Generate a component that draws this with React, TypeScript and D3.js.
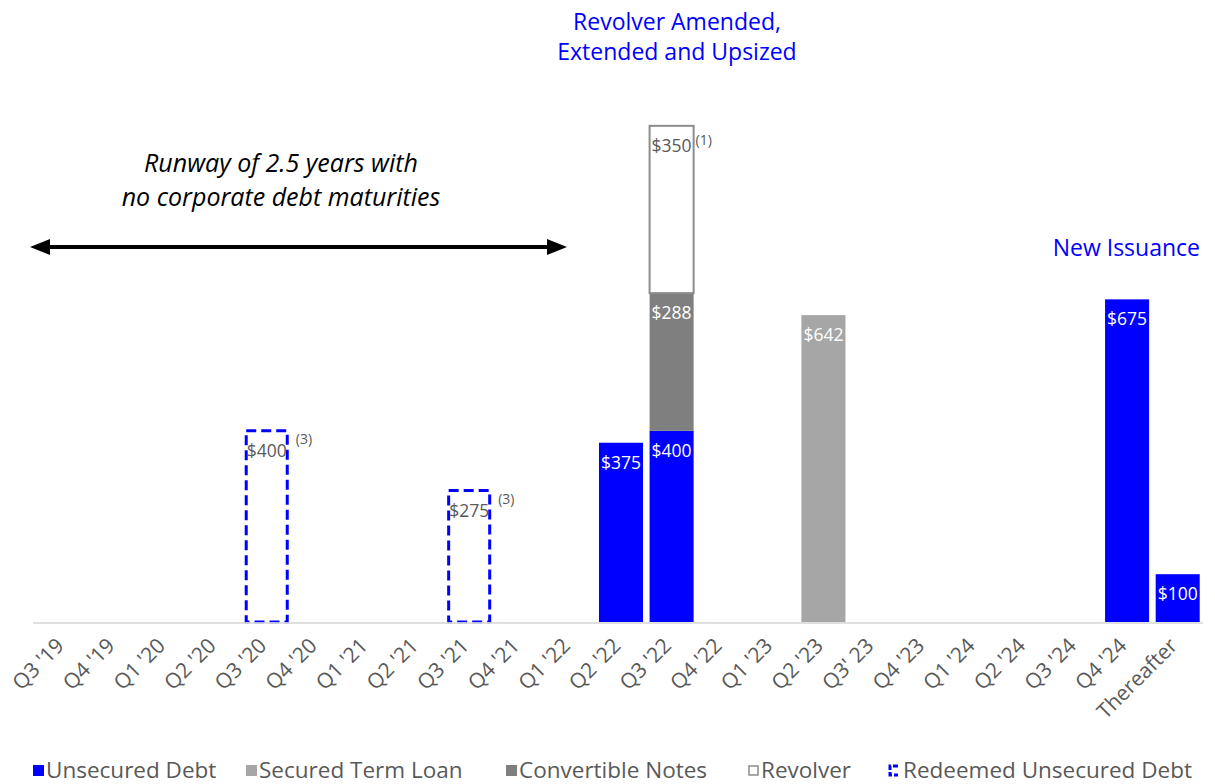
import React, { useEffect, useRef } from "react";
import * as d3 from "d3";

const categories = [
  "Q3 '19", "Q4 '19", "Q1 '20", "Q2 '20", "Q3 '20", "Q4 '20", "Q1 '21", "Q2 '21",
  "Q3 '21", "Q4 '21", "Q1 '22", "Q2 '22", "Q3 '22", "Q4 '22", "Q1 '23", "Q2 '23",
  "Q3' 23", "Q4 '23", "Q1 '24", "Q2 '24", "Q3 '24", "Q4 '24", "Thereafter",
];
const unsecured = [0, 0, 0, 0, 0, 0, 0, 0, 0, 0, 0, 375, 400, 0, 0, 0, 0, 0, 0, 0, 0, 675, 100];
const securedTermLoan = [0, 0, 0, 0, 0, 0, 0, 0, 0, 0, 0, 0, 0, 0, 0, 642, 0, 0, 0, 0, 0, 0, 0];
const convertible = [0, 0, 0, 0, 0, 0, 0, 0, 0, 0, 0, 0, 288, 0, 0, 0, 0, 0, 0, 0, 0, 0, 0];
const revolver = [0, 0, 0, 0, 0, 0, 0, 0, 0, 0, 0, 0, 350, 0, 0, 0, 0, 0, 0, 0, 0, 0, 0];
const redeemed = [0, 0, 0, 0, 400, 0, 0, 0, 275, 0, 0, 0, 0, 0, 0, 0, 0, 0, 0, 0, 0, 0, 0];
const footnotes = [
  { category: "Q3 '20", note: "(3)" },
  { category: "Q3 '21", note: "(3)" },
  { category: "Q3 '22", note: "(1)" },
];

const seriesKeys = ["unsecured", "secured", "convertible", "revolver"];
const seriesNames = ["Unsecured Debt", "Secured Term Loan", "Convertible Notes", "Revolver"];
const seriesFill = ["#0000ff", "#a6a6a6", "#7f7f7f", "#ffffff"];

const FONT = "'Open Sans', Lato, sans-serif";
const GREY = "#595959";

const App = () => {
  const svgRef = useRef<SVGSVGElement>(null);

  useEffect(() => {
    const width = 1215;
    const height = 784;
    const baseY = 622;

    d3.select(svgRef.current).selectAll("*").remove();

    const svg = d3
      .select(svgRef.current)
      .attr("width", width)
      .attr("height", height)
      .style("position", "absolute")
      .style("left", "0px")
      .style("top", "0px")
      .style("font-family", FONT);

    const x = d3
      .scaleBand()
      .domain(categories)
      .range([39, 1203])
      .paddingInner(0.13)
      .paddingOuter(0.065);

    const y = d3.scaleLinear().domain([0, 1100]).range([baseY, baseY - 1100 * 0.478]);

    const rows = categories.map((c, i) => ({
      category: c,
      unsecured: unsecured[i],
      secured: securedTermLoan[i],
      convertible: convertible[i],
      revolver: revolver[i],
    }));

    const stacked = d3.stack<any>().keys(seriesKeys)(rows);

    // stacked bars
    stacked.forEach((layer, li) => {
      const g = svg.append("g");
      const valid = layer.filter((d) => d[1] - d[0] > 0);
      g.selectAll("rect")
        .data(valid)
        .join("rect")
        .attr("x", (d) => x(d.data.category)!)
        .attr("y", (d) => y(d[1]))
        .attr("width", x.bandwidth())
        .attr("height", (d) => y(d[0]) - y(d[1]))
        .attr("fill", seriesFill[li])
        .attr("stroke", li === 3 ? "#8c8c8c" : "none")
        .attr("stroke-width", li === 3 ? 2 : 0);

      g.selectAll("text")
        .data(valid)
        .join("text")
        .attr("x", (d) => x(d.data.category)! + x.bandwidth() / 2)
        .attr("y", (d) => y(d[1]) + 26)
        .attr("text-anchor", "middle")
        .attr("font-size", 17.5)
        .attr("fill", li === 3 ? GREY : "#ffffff")
        .text((d) => `$${d[1] - d[0]}`);
    });

    // redeemed (dashed) bars
    const redeemedData = categories
      .map((c, i) => ({ category: c, value: redeemed[i] }))
      .filter((d) => d.value > 0);

    svg
      .append("g")
      .selectAll("rect")
      .data(redeemedData)
      .join("rect")
      .attr("x", (d) => x(d.category)! + 1.5)
      .attr("y", (d) => y(d.value))
      .attr("width", x.bandwidth() - 3)
      .attr("height", (d) => baseY - y(d.value))
      .attr("fill", "none")
      .attr("stroke", "#0000ff")
      .attr("stroke-width", 3)
      .attr("stroke-dasharray", "10,5");

    svg
      .append("g")
      .selectAll("text")
      .data(redeemedData)
      .join("text")
      .attr("x", (d) => x(d.category)! + x.bandwidth() / 2)
      .attr("y", (d) => y(d.value) + 26)
      .attr("text-anchor", "middle")
      .attr("font-size", 17.5)
      .attr("fill", GREY)
      .text((d) => `$${d.value}`);

    // footnote markers
    const topOf = (c: string) => {
      const i = categories.indexOf(c);
      return unsecured[i] + securedTermLoan[i] + convertible[i] + revolver[i] || redeemed[i];
    };
    svg
      .append("g")
      .selectAll("text")
      .data(footnotes)
      .join("text")
      .attr("x", (d) => x(d.category)! + x.bandwidth() + (d.note === "(1)" ? 2 : 7))
      .attr("y", (d) => y(topOf(d.category)) + (d.note === "(1)" ? 19 : 13))
      .attr("font-size", 14)
      .attr("fill", GREY)
      .text((d) => d.note);

    // baseline
    svg
      .append("line")
      .attr("x1", 33)
      .attr("x2", 1203)
      .attr("y1", baseY + 1)
      .attr("y2", baseY + 1)
      .attr("stroke", "#d9d9d9")
      .attr("stroke-opacity", 0.85)
      .attr("stroke-width", 2);

    // category labels
    svg
      .append("g")
      .selectAll("text")
      .data(categories)
      .join("text")
      .attr("transform", (d) => `translate(${x(d)! + x.bandwidth() / 2 + 1},${baseY + 25}) rotate(-45)`)
      .attr("text-anchor", "end")
      .attr("font-size", 21)
      .attr("fill", GREY)
      .text((d) => d);

    // annotations
    svg
      .append("text")
      .attr("x", 677)
      .attr("y", 30)
      .attr("text-anchor", "middle")
      .attr("font-size", 23)
      .attr("fill", "#0000ff")
      .selectAll("tspan")
      .data(["Revolver Amended,", "Extended and Upsized"])
      .join("tspan")
      .attr("x", 677)
      .attr("dy", (d, i) => (i === 0 ? 0 : 30))
      .text((d) => d);

    svg
      .append("text")
      .attr("x", 1200)
      .attr("y", 256)
      .attr("text-anchor", "end")
      .attr("font-size", 23)
      .attr("fill", "#0000ff")
      .text("New Issuance");

    svg
      .append("text")
      .attr("x", 281)
      .attr("y", 172)
      .attr("text-anchor", "middle")
      .attr("font-size", 25)
      .attr("font-style", "italic")
      .attr("fill", "#000000")
      .selectAll("tspan")
      .data(["Runway of 2.5 years with", "no corporate debt maturities"])
      .join("tspan")
      .attr("x", 281)
      .attr("dy", (d, i) => (i === 0 ? 0 : 34))
      .text((d) => d);

    // double arrow
    const arrowY = 247;
    svg
      .append("line")
      .attr("x1", 44)
      .attr("x2", 553)
      .attr("y1", arrowY)
      .attr("y2", arrowY)
      .attr("stroke", "#000")
      .attr("stroke-width", 4);
    svg
      .append("path")
      .attr("d", `M30,${arrowY} L50,${arrowY - 8} L50,${arrowY + 8} Z`)
      .attr("fill", "#000");
    svg
      .append("path")
      .attr("d", `M567,${arrowY} L547,${arrowY - 8} L547,${arrowY + 8} Z`)
      .attr("fill", "#000");

    // legend
    const legendY = 770;
    const legendX = [33, 246, 506, 748];
    const legend = svg.append("g");
    seriesNames.forEach((name, i) => {
      legend
        .append("rect")
        .attr("x", legendX[i] + (i === 3 ? 1 : 0))
        .attr("y", legendY - 5 + (i === 3 ? 1 : 0))
        .attr("width", i === 3 ? 9 : 11)
        .attr("height", i === 3 ? 9 : 11)
        .attr("fill", seriesFill[i])
        .attr("stroke", i === 3 ? "#8c8c8c" : "none")
        .attr("stroke-width", i === 3 ? 1.5 : 0);
      legend
        .append("text")
        .attr("x", legendX[i] + 13)
        .attr("y", legendY + 8)
        .attr("font-size", 22.5)
        .attr("fill", GREY)
        .text(name);
    });
    legend
      .append("path")
      .attr("d", `M898,${legendY - 4} L890,${legendY - 4} L890,${legendY + 5} L898,${legendY + 5}`)
      .attr("fill", "none")
      .attr("stroke", "#0000ff")
      .attr("stroke-width", 3)
      .attr("stroke-dasharray", "5,2");
    legend
      .append("text")
      .attr("x", 903)
      .attr("y", legendY + 8)
      .attr("font-size", 22.5)
      .attr("fill", GREY)
      .text("Redeemed Unsecured Debt");
  }, []);

  return <svg ref={svgRef}></svg>;
};

export default App;
